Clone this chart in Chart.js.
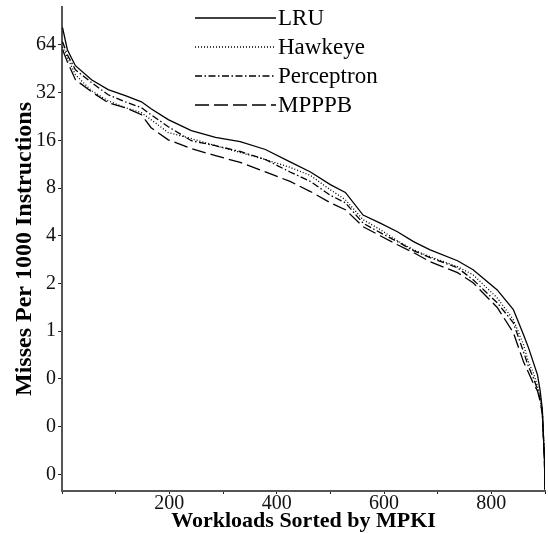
<!DOCTYPE html>
<html>
<head>
<meta charset="utf-8">
<script src="https://cdn.jsdelivr.net/npm/chart.js@4.4.1/dist/chart.umd.min.js"></script>
<style>
  html, body { margin: 0; padding: 0; background: #fff; }
  #chart { display: block; }
</style>
</head>
<body>
<canvas id="chart" width="548" height="533"></canvas>
<script>
// workload index (sorted by MPKI) where each curve was sampled
const workloads = [1, 10, 25, 55, 86, 118, 148, 166, 198, 241, 286, 332, 379, 425, 463, 500, 528,
  561, 593, 625, 655, 686, 737, 766, 811, 841, 860, 869, 878, 886, 891, 895, 899, 900];

const lruMpki = [82.2, 59.7, 47.3, 38.6, 33.4, 30.6, 28.0, 25.3, 21.6, 18.4, 16.7, 15.7, 14.0, 11.7, 10.1, 8.4, 7.5,
  5.4, 4.8, 4.24, 3.67, 3.26, 2.78, 2.44, 1.82, 1.37, 0.95, 0.79, 0.64, 0.53, 0.42, 0.32, 0.154, 0.1];
const hawkeyeMpki = [62.3, 53.2, 41.5, 32.9, 28.4, 25.7, 23.9, 21.6, 17.9, 16.4, 14.8, 13.4, 12.1, 10.8, 9.6, 7.8, 6.75,
  5.05, 4.37, 3.72, 3.26, 2.95, 2.55, 2.27, 1.62, 1.18, 0.82, 0.64, 0.55, 0.45, 0.38, 0.32, 0.154, 0.1];
const perceptronMpki = [67.0, 55.5, 44.6, 37.0, 31.0, 28.0, 25.7, 23.2, 19.5, 15.9, 14.8, 13.6, 12.1, 10.1, 8.8, 7.2, 6.46,
  4.8, 4.18, 3.67, 3.22, 2.91, 2.51, 2.11, 1.51, 1.13, 0.74, 0.60, 0.51, 0.43, 0.37, 0.31, 0.154, 0.1];
const mpppbMpki = [59.7, 50.1, 38.6, 32.4, 27.6, 25.7, 23.2, 19.2, 16.1, 14.2, 12.8, 11.6, 10.1, 8.8, 7.6, 6.46, 5.84,
  4.56, 4.0, 3.51, 3.13, 2.74, 2.34, 2.02, 1.41, 0.98, 0.64, 0.55, 0.47, 0.42, 0.36, 0.30, 0.154, 0.1];

const yTicks = [64, 32, 16, 8, 4, 2, 1, 0.5, 0.25, 0.125];
const yTickLabels = ['64', '32', '16', '8', '4', '2', '1', '0', '0', '0'];
const xTickLabels = [200, 400, 600, 800];

const serif = "'Liberation Serif', 'Times New Roman', serif";
Chart.defaults.font.family = serif;
Chart.defaults.color = '#111';

function series(label, values, dash) {
  return {
    label: label,
    data: workloads.map((w, i) => ({ x: w, y: values[i] })),
    borderColor: '#000',
    borderWidth: 1.3,
    borderDash: dash,
    pointRadius: 0,
    fill: false,
    tension: 0
  };
}

// legend drawn inside the plot, short line followed by the name
const lineLegend = {
  id: 'lineLegend',
  afterDraw(chart) {
    const ctx = chart.ctx;
    const area = chart.chartArea;
    const x0 = area.left + 133;
    const x1 = area.left + 214;
    ctx.save();
    ctx.font = '23px ' + serif;
    ctx.textBaseline = 'middle';
    ctx.fillStyle = '#000';
    chart.data.datasets.forEach((ds, i) => {
      const y = area.top + 11 + i * 29;
      ctx.beginPath();
      ctx.setLineDash(ds.borderDash || []);
      ctx.lineWidth = 1.3;
      ctx.strokeStyle = '#000';
      ctx.moveTo(x0, y);
      ctx.lineTo(x1, y);
      ctx.stroke();
      ctx.setLineDash([]);
      ctx.fillText(ds.label, x1 + 2, y + 1);
    });
    ctx.restore();
  }
};

new Chart(document.getElementById('chart'), {
  type: 'line',
  data: {
    datasets: [
      series('LRU', lruMpki, []),
      series('Hawkeye', hawkeyeMpki, [1, 2]),
      series('Perceptron', perceptronMpki, [7, 2.5, 1.5, 2.5]),
      series('MPPPB', mpppbMpki, [14, 5])
    ]
  },
  options: {
    responsive: false,
    animation: false,
    devicePixelRatio: 1,
    layout: { padding: { top: 7, right: 3, left: 0, bottom: 0 } },
    plugins: {
      legend: { display: false },
      tooltip: { enabled: false }
    },
    scales: {
      x: {
        type: 'linear',
        min: 0,
        max: 900,
        afterFit: s => { s.height = 42; s.paddingLeft = 0; s.paddingRight = 0; },
        grid: { drawOnChartArea: false, drawTicks: true, tickLength: 3, color: '#222' },
        border: { color: '#555', width: 2 },
        ticks: {
          stepSize: 100,
          autoSkip: false,
          maxRotation: 0,
          padding: -2,
          font: { size: 20 },
          color: '#111',
          callback: v => xTickLabels.includes(v) ? String(v) : ''
        },
        title: {
          display: true,
          text: 'Workloads Sorted by MPKI',
          font: { size: 22, weight: 'bold', lineHeight: 1 },
          color: '#000',
          padding: { top: 0, bottom: 1 }
        }
      },
      y: {
        type: 'logarithmic',
        min: 0.098,
        max: 111,
        afterFit: s => { s.width = 62; s.paddingTop = 0; s.paddingBottom = 0; },
        afterBuildTicks: s => { s.ticks = yTicks.map(v => ({ value: v })); },
        grid: { drawOnChartArea: false, drawTicks: true, tickLength: 4, color: '#222' },
        border: { color: '#555', width: 2 },
        ticks: {
          padding: 2,
          font: { size: 20 },
          color: '#111',
          callback: v => yTickLabels[yTicks.indexOf(v)]
        },
        title: {
          display: true,
          text: 'Misses Per 1000 Instructions',
          font: { size: 24, weight: 'bold', lineHeight: 1 },
          color: '#000',
          padding: { top: 13, bottom: 0 }
        }
      }
    }
  },
  plugins: [lineLegend]
});
</script>
</body>
</html>
